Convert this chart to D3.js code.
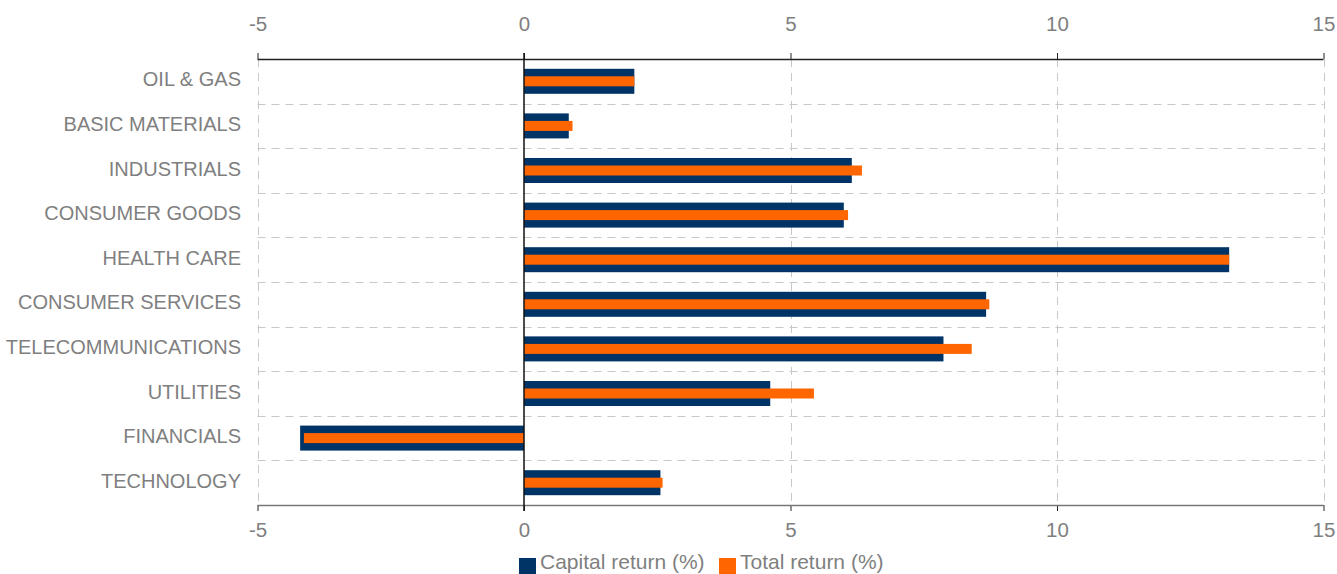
<!DOCTYPE html>
<html>
<head>
<meta charset="utf-8">
<script src="https://cdn.jsdelivr.net/npm/d3@7"></script>
<style>
  body { margin: 0; background: #fff; }
  text { font-family: "Liberation Sans", Arial, sans-serif; fill: #7f7f7f; }
</style>
</head>
<body>
<div id="chart"></div>
<script>
const sectors = ["OIL & GAS", "BASIC MATERIALS", "INDUSTRIALS", "CONSUMER GOODS", "HEALTH CARE",
  "CONSUMER SERVICES", "TELECOMMUNICATIONS", "UTILITIES", "FINANCIALS", "TECHNOLOGY"];
const capitalReturn = [2.07, 0.84, 6.15, 6.0, 13.23, 8.67, 7.87, 4.62, -4.2, 2.56];
const totalReturn = [2.07, 0.91, 6.34, 6.08, 13.23, 8.73, 8.4, 5.44, -4.13, 2.6];
const xTicks = [-5, 0, 5, 10, 15];
const seriesNames = ["Capital return (%)", "Total return (%)"];

const W = 1337, H = 574;
const plotLeft = 257.5, plotRight = 1323.5, plotTop = 59, plotBottom = 505;
const navy = "#003366", orange = "#ff6600";

const svg = d3.select("#chart").append("svg")
  .attr("width", W).attr("height", H);

let x = d3.scaleLinear().domain([-5, 15]).range([plotLeft, plotRight]);
let y = d3.scaleBand().domain(sectors).range([plotTop, plotBottom]);

// grid
const grid = svg.append("g").attr("stroke", "#c8c8c8").attr("stroke-dasharray", "8,6");
grid.selectAll(".vg").data(xTicks.filter(d => d != 0)).enter().append("line")
  .attr("x1", d => Math.round(x(d)) + 0.5).attr("x2", d => Math.round(x(d)) + 0.5)
  .attr("y1", plotTop).attr("y2", plotBottom);
grid.selectAll(".hg").data(sectors.slice(1)).enter().append("line")
  .attr("x1", plotLeft).attr("x2", plotRight)
  .attr("y1", d => Math.round(y(d)) + 0.5).attr("y2", d => Math.round(y(d)) + 0.5);

// bars
const bh1 = 25, bh2 = 10;
svg.selectAll(".cap").data(capitalReturn).enter().append("rect")
  .attr("x", d => x(Math.min(0, d)))
  .attr("width", d => Math.abs(x(d) - x(0)))
  .attr("y", (d, i) => y(sectors[i]) + y.bandwidth() / 2 - bh1 / 2)
  .attr("height", bh1)
  .attr("fill", navy);
svg.selectAll(".tot").data(totalReturn).enter().append("rect")
  .attr("x", d => x(Math.min(0, d)))
  .attr("width", d => Math.abs(x(d) - x(0)))
  .attr("y", (d, i) => y(sectors[i]) + y.bandwidth() / 2 - bh2 / 2)
  .attr("height", bh2)
  .attr("fill", orange);

// axes
let xTop = d3.axisTop(x).tickValues(xTicks).tickSize(6).tickPadding(22).tickFormat(d => String(d));
let xBottom = d3.axisBottom(x).tickValues(xTicks).tickSize(6).tickPadding(11).tickFormat(d => String(d));
function styleAxis(g) {
  g.select(".domain").remove();
  g.selectAll(".tick line").attr("stroke", "#222");
  g.selectAll(".tick text").attr("font-size", 20.5).style("fill", "#7f7f7f")
    .attr("font-family", '"Liberation Sans", Arial, sans-serif');
}
svg.append("g").attr("transform", "translate(0," + plotTop + ")").call(xTop).call(styleAxis);
svg.append("g").attr("transform", "translate(0," + plotBottom + ")").call(xBottom).call(styleAxis);
svg.append("line").attr("x1", plotLeft).attr("x2", plotRight).attr("y1", plotTop + 0.5).attr("y2", plotTop + 0.5)
  .attr("stroke", "#222").attr("stroke-width", 1.5);
svg.append("line").attr("x1", plotLeft).attr("x2", plotRight).attr("y1", plotBottom + 0.5).attr("y2", plotBottom + 0.5)
  .attr("stroke", "#777").attr("stroke-width", 1.5);

// zero line
svg.append("line").attr("x1", x(0)).attr("x2", x(0)).attr("y1", plotTop - 6).attr("y2", plotBottom + 6)
  .attr("stroke", "#111").attr("stroke-width", 1.5);

// category labels
svg.selectAll(".cat").data(sectors).enter().append("text")
  .attr("x", 241)
  .attr("y", d => y(d) + y.bandwidth() / 2 + 5)
  .attr("text-anchor", "end")
  .attr("font-size", 20)
  .text(d => d);

// legend
const legend = svg.append("g");
const lx = [519, 719];
const colors = [navy, orange];
seriesNames.forEach((n, i) => {
  legend.append("rect").attr("x", lx[i]).attr("y", 558).attr("width", 17).attr("height", 16).attr("fill", colors[i]);
  legend.append("text").attr("x", lx[i] + 21).attr("y", 569).attr("font-size", 21).text(n);
});
</script>
</body>
</html>
